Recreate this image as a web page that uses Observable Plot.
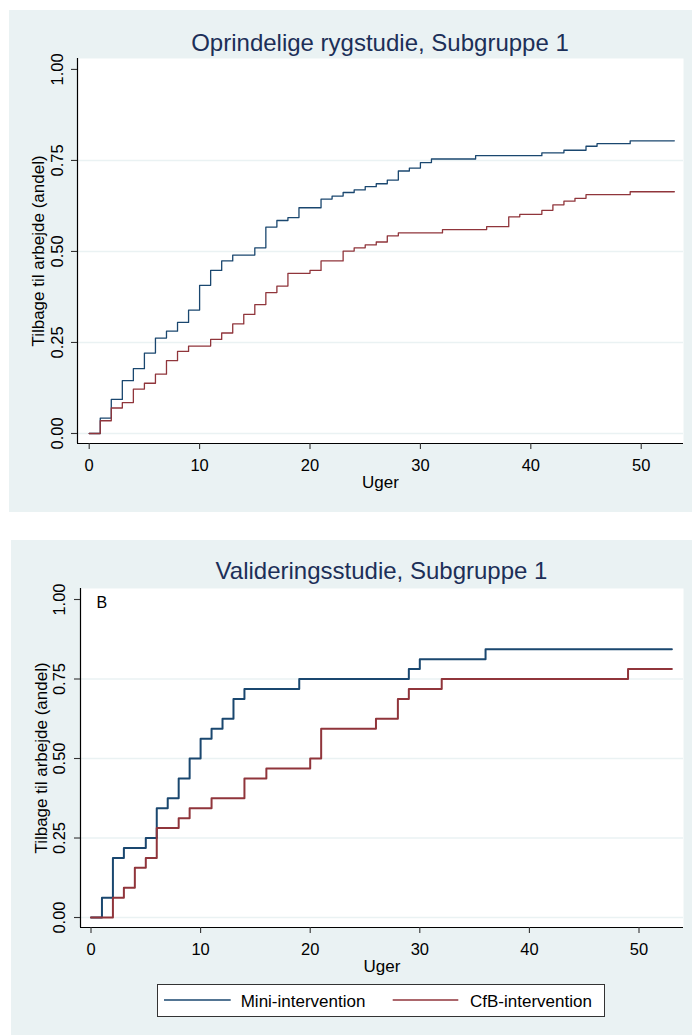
<!DOCTYPE html>
<html><head><meta charset="utf-8">
<script src="https://cdn.jsdelivr.net/npm/d3@7"></script>
<script src="https://cdn.jsdelivr.net/npm/@observablehq/plot@0.6"></script>
<style>
body{margin:0;background:#fff;font-family:"Liberation Sans",Arial,Helvetica,sans-serif;}
#page{position:relative;width:692px;height:1035px;overflow:hidden;background:#fff;}
.panel{position:absolute;background:#eaf2f3;}
.title{position:absolute;text-align:center;font-size:24px;line-height:24px;color:#1c2f58;white-space:nowrap;}
.chart{position:absolute;left:0;}
#legend{position:absolute;left:146px;top:444px;}
</style></head><body>
<div id="page">
 <div class="panel" style="left:9px;top:10px;width:683px;height:502px;">
   <div class="title" style="left:68px;width:606px;top:20.5px;">Oprindelige rygstudie, Subgruppe 1</div>
   <div class="chart" id="c1" style="top:42px;"></div>
 </div>
 <div class="panel" style="left:11px;top:540px;width:681px;height:495px;">
   <div class="title" style="left:69px;width:603px;top:19px;">Valideringsstudie, Subgruppe 1</div>
   <div class="chart" id="c2" style="top:42px;"></div>
   <div id="legend"></div>
 </div>
</div>
<script>
// ---- data ----
const xTicks = [0, 10, 20, 30, 40, 50];
const yTicks = [0, 0.25, 0.5, 0.75, 1];
const yTickLabels = ["0.00", "0.25", "0.50", "0.75", "1.00"];
const yGrid = [0, 0.25, 0.5, 0.75];
const seriesNames = ["Mini-intervention", "CfB-intervention"];
const seriesColors = ["#1a476f", "#90353b"];
const xTitle = "Uger";
const yTitle = "Tilbage til arbejde (andel)";
const panelLetter = "B";

// Panel 1: Oprindelige rygstudie
const p1MiniWeeks = [0,1,2,3,4,5,6,7,8,9,10,11,12,13,15,16,17,18,19,21,22,23,24,25,26,27,28,29,30,31,35,41,43,45,46,49,53];
const p1MiniVals  = [0,0.042,0.0935,0.145,0.178,0.221,0.262,0.281,0.305,0.339,0.407,0.448,0.474,0.490,0.510,0.567,0.585,0.593,0.620,0.644,0.652,0.662,0.669,0.678,0.686,0.696,0.721,0.729,0.744,0.754,0.763,0.771,0.778,0.789,0.796,0.804,0.804];
const p1CfbWeeks  = [0,1,2,3,4,5,6,7,8,9,11,12,13,14,15,16,17,18,20,21,23,24,25,26,27,28,32,36,38,39,41,42,43,44,45,49,53];
const p1CfbVals   = [0,0.035,0.070,0.085,0.122,0.138,0.163,0.200,0.2255,0.240,0.2585,0.276,0.301,0.327,0.354,0.387,0.405,0.440,0.448,0.474,0.501,0.510,0.518,0.526,0.543,0.551,0.560,0.568,0.595,0.602,0.613,0.628,0.638,0.646,0.656,0.664,0.664];

// Panel 2: Valideringsstudie
const p2MiniWeeks = [0,1,2,3,5,6,7,8,9,10,11,12,13,14,19,29,30,36,53];
const p2MiniVals  = [0,0.0625,0.1875,0.21875,0.25,0.34375,0.375,0.4375,0.5,0.5625,0.59375,0.625,0.6875,0.71875,0.75,0.78125,0.8125,0.84375,0.84375];
const p2CfbWeeks  = [0,2,3,4,5,6,8,9,11,14,16,20,21,26,28,29,32,49,53];
const p2CfbVals   = [0,0.0625,0.09375,0.15625,0.1875,0.28125,0.3125,0.34375,0.375,0.4375,0.46875,0.5,0.59375,0.625,0.6875,0.71875,0.75,0.78125,0.78125];

const toRows = (w, v) => w.map((t, i) => ({t, v: v[i]}));

function makePanel(o) {
  const marks = [
    Plot.frame({fill: "white", stroke: null}),
    Plot.gridY(yGrid, {stroke: "#eaf2f3", strokeOpacity: 1, strokeWidth: 1.6}),
    Plot.line(toRows(o.miniW, o.miniV), {x: "t", y: "v", curve: "step-after", stroke: seriesColors[0], strokeWidth: o.lw}),
    Plot.line(toRows(o.cfbW, o.cfbV), {x: "t", y: "v", curve: "step-after", stroke: seriesColors[1], strokeWidth: o.lw}),
    Plot.ruleX([o.xd[0]], {stroke: "#000", strokeWidth: 1.2}),
    Plot.ruleY([o.yd[0]], {stroke: "#000", strokeWidth: 1.2}),
    Plot.axisY(yTicks, {tickSize: 6, tickFormat: () => "", label: null, stroke: "#333", strokeWidth: 1.1}),
    Plot.axisX(xTicks, {tickSize: 6, tickPadding: 10, fontSize: 16.5, label: null, stroke: "#333", strokeWidth: 1.1, fill: "#000"}),
    Plot.text(yTicks, {y: d => d, text: (d, i) => yTickLabels[i], frameAnchor: "left", dx: o.tickDx, rotate: -90, textAnchor: "middle", lineAnchor: "middle", fontSize: 16.5, fill: "#000"}),
    Plot.text([yTitle], {frameAnchor: "left", dx: -39, rotate: -90, textAnchor: "middle", lineAnchor: "middle", fontSize: 17, fill: "#000"}),
    Plot.text([xTitle], {frameAnchor: "bottom", dy: 32, textAnchor: "middle", lineAnchor: "top", fontSize: 17, fill: "#000"})
  ];
  if (o.letter) marks.push(Plot.text([o.letter], {frameAnchor: "top-left", dx: 16, dy: 8.5, textAnchor: "start", lineAnchor: "top", fontSize: 16, fill: "#000"}));
  return Plot.plot({
    width: o.width, height: o.height,
    marginLeft: o.ml, marginRight: o.mr, marginTop: o.mt, marginBottom: o.mb,
    x: {domain: o.xd}, y: {domain: o.yd},
    style: {background: "transparent", overflow: "visible", fontFamily: '"Liberation Sans", Arial, sans-serif', color: "#000"},
    marks
  });
}

document.getElementById("c1").appendChild(makePanel({
  width: 683, height: 460, ml: 68, mr: 9, mt: 6, mb: 69,
  xd: [-1.06, 53.83], yd: [-0.0275, 1.030],
  miniW: p1MiniWeeks, miniV: p1MiniVals, cfbW: p1CfbWeeks, cfbV: p1CfbVals,
  lw: 1.3, tickDx: -19.5
}));

document.getElementById("c2").appendChild(makePanel({
  width: 681, height: 397, ml: 69, mr: 9, mt: 6, mb: 52,
  xd: [-0.958, 54.06], yd: [-0.0314, 1.0346],
  miniW: p2MiniWeeks, miniV: p2MiniVals, cfbW: p2CfbWeeks, cfbV: p2CfbVals,
  lw: 2, tickDx: -21, letter: panelLetter
}));

// legend
const ns = "http://www.w3.org/2000/svg";
const lg = document.createElementNS(ns, "svg");
lg.setAttribute("width", 448); lg.setAttribute("height", 33);
lg.style.fontFamily = '"Liberation Sans", Arial, sans-serif';
const rect = document.createElementNS(ns, "rect");
Object.entries({x: 0.5, y: 0.5, width: 447, height: 32, fill: "#fff", stroke: "#333", "stroke-width": 1}).forEach(([k, v]) => rect.setAttribute(k, v));
lg.appendChild(rect);
const lx = [[7, 73.7, 83.7], [235.7, 301.3, 313]];
seriesNames.forEach((name, i) => {
  const ln = document.createElementNS(ns, "line");
  Object.entries({x1: lx[i][0], x2: lx[i][1], y1: 16, y2: 16, stroke: seriesColors[i], "stroke-width": 1.3}).forEach(([k, v]) => ln.setAttribute(k, v));
  lg.appendChild(ln);
  const tx = document.createElementNS(ns, "text");
  Object.entries({x: lx[i][2], y: 23.3, "font-size": 17, fill: "#000"}).forEach(([k, v]) => tx.setAttribute(k, v));
  tx.textContent = name;
  lg.appendChild(tx);
});
document.getElementById("legend").appendChild(lg);
</script>
</body></html>
